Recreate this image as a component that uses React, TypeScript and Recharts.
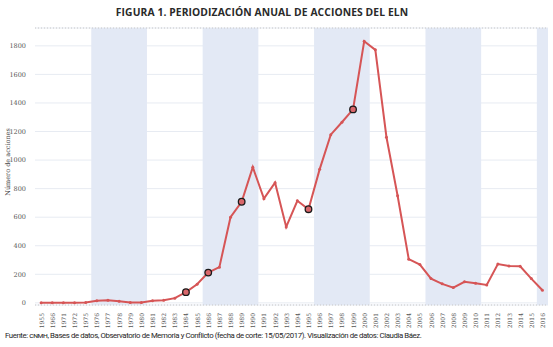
import React from 'react';
import {
  LineChart,
  Line,
  XAxis,
  YAxis,
  CartesianGrid,
  ReferenceArea,
  ReferenceLine,
} from 'recharts';

// años (eje categórico, con saltos al inicio)
const years = [
  1955, 1966, 1971, 1972, 1975, 1976, 1977, 1978, 1979, 1980, 1981, 1982, 1983, 1984, 1985,
  1986, 1987, 1988, 1989, 1990, 1991, 1992, 1993, 1994, 1995, 1996, 1997, 1998, 1999, 2000,
  2001, 2002, 2003, 2004, 2005, 2006, 2007, 2008, 2009, 2010, 2011, 2012, 2013, 2014, 2015,
  2016,
];

const acciones = [
  1, 0, 0, 0, 2, 14, 19, 12, 2, 3, 14, 19, 33, 75, 130,
  212, 250, 600, 708, 950, 730, 842, 532, 715, 656, 935, 1178, 1265, 1355, 1832,
  1772, 1160, 750, 306, 268, 170, 133, 107, 147, 137, 125, 272, 258, 256, 170,
  88,
];

// años marcados con círculo grande
const hitos = [1984, 1986, 1989, 1995, 1999];

// periodos sombreados (primer y último año)
const periodos: [number, number][] = [
  [1976, 1980],
  [1986, 1990],
  [1996, 2000],
  [2006, 2010],
  [2016, 2016],
];

const yTicks = [0, 200, 400, 600, 800, 1000, 1200, 1400, 1600, 1800];

const data = years.map((y, i) => ({ i, year: y, n: acciones[i] }));

const RED = '#d65556';
const Y_MAX = 1925;
const SERIF = "'DejaVu Serif', 'Liberation Serif', serif";

function XTick({ x, y, payload }: any) {
  return (
    <text
      x={x}
      y={y}
      transform={`rotate(-90 ${x} ${y})`}
      textAnchor="end"
      dominantBaseline="central"
      fontSize={6}
      fontFamily={SERIF}
      fill="#555"
    >
      {years[payload.value]}
    </text>
  );
}

function Dot(props: any) {
  const { cx, cy, payload, index } = props;
  if (cx == null || cy == null) return <g key={index} />;
  if (hitos.includes(payload.year)) {
    return <circle key={index} cx={cx} cy={cy} r={3.3} fill="#d9676b" stroke="#1a1a1a" strokeWidth={1.3} />;
  }
  return <circle key={index} cx={cx} cy={cy} r={1.5} fill={RED} />;
}

export default function App() {
  return (
    <div style={{ position: 'absolute', left: 0, top: 0, width: 553, height: 347, background: '#fff' }}>
      <div
        style={{
          position: 'absolute',
          left: 0,
          top: 5,
          width: 524,
          textAlign: 'center',
          fontFamily: "'Open Sans', sans-serif",
          fontWeight: 700,
          fontSize: 10.3,
          color: '#2a2a2a',
          letterSpacing: 0.1,
        }}
      >
        FIGURA 1. PERIODIZACIÓN ANUAL DE ACCIONES DEL ELN
      </div>
      <div
        style={{
          position: 'absolute',
          left: 8,
          top: 162,
          transform: 'translate(-50%, -50%) rotate(-90deg)',
          fontFamily: SERIF,
          fontSize: 6.5,
          color: '#444',
          whiteSpace: 'nowrap',
        }}
      >
        Número de acciones
      </div>
      <LineChart
        width={553}
        height={330}
        data={data}
        margin={{ top: 28, right: 5, left: 0, bottom: 0 }}
        style={{ position: 'absolute', left: 0, top: 0 }}
      >
        <CartesianGrid vertical={false} stroke="#e7ebf2" />
        {periodos.map(([a, b]) => (
          <ReferenceArea
            key={a}
            x1={years.indexOf(a) - 0.5}
            x2={Math.min(years.indexOf(b) + 0.5, 45.5)}
            y1={-15}
            y2={Y_MAX}
            fill="#e3e9f5"
            fillOpacity={1}
            stroke="none"
            ifOverflow="hidden"
          />
        ))}
        <ReferenceLine y={Y_MAX} stroke="#c8c8c8" strokeDasharray="1 2" />
        <XAxis
          type="number"
          dataKey="i"
          domain={[-0.55, 45.5]}
          ticks={years.map((_, i) => i)}
          interval={0}
          tick={<XTick />}
          tickLine={false}
          axisLine={{ stroke: '#c8c8c8', strokeDasharray: '1 2' }}
          height={25}
          tickMargin={2}
        />
        <YAxis
          domain={[-15, Y_MAX]}
          ticks={yTicks}
          width={35}
          tickLine={false}
          axisLine={false}
          tick={{ fontSize: 6.5, fontFamily: SERIF, fill: '#555' }}
          tickMargin={3}
        />
        <Line
          type="linear"
          dataKey="n"
          stroke={RED}
          strokeWidth={2}
          dot={Dot}
          activeDot={false}
          isAnimationActive={false}
        />
      </LineChart>
      <div
        style={{
          position: 'absolute',
          left: 5,
          top: 331,
          fontFamily: "Roboto, sans-serif",
          fontSize: 7.8,
          letterSpacing: -0.4,
          color: '#1e1e1e',
          whiteSpace: 'nowrap',
        }}
      >
        Fuente: <span style={{ fontVariant: 'small-caps' }}>cnmh</span>, Bases de datos, Observatorio de Memoria y Conflicto (fecha de corte: 15/05/2017). Visualización de datos: Claudia Báez.
      </div>
    </div>
  );
}
